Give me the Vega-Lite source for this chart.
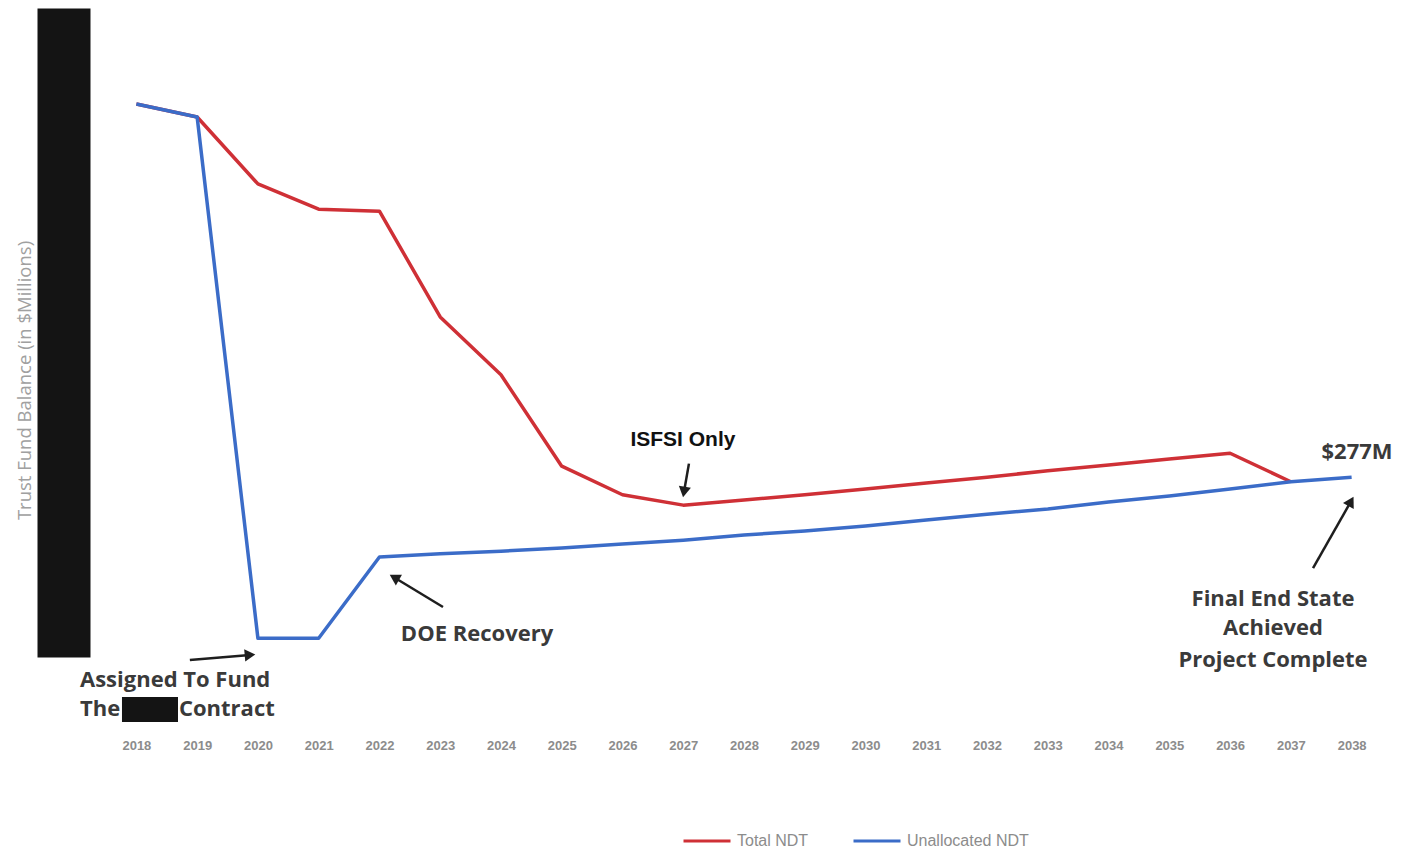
{
  "$schema": "https://vega.github.io/schema/vega-lite/v6.json",
  "autosize": "none",
  "width": 1276,
  "height": 649,
  "padding": {"left": 106, "top": 8, "right": 19, "bottom": 192},
  "background": "white",
  "config": {
    "view": {"stroke": null},
    "axis": {"grid": false, "ticks": false}
  },
  "datasets": {
    "balances": [
      {"year": 2018, "series": "Total NDT", "value": 852},
      {"year": 2019, "series": "Total NDT", "value": 832},
      {"year": 2020, "series": "Total NDT", "value": 729},
      {"year": 2021, "series": "Total NDT", "value": 690},
      {"year": 2022, "series": "Total NDT", "value": 687},
      {"year": 2023, "series": "Total NDT", "value": 524},
      {"year": 2024, "series": "Total NDT", "value": 435},
      {"year": 2025, "series": "Total NDT", "value": 294},
      {"year": 2026, "series": "Total NDT", "value": 250},
      {"year": 2027, "series": "Total NDT", "value": 234},
      {"year": 2028, "series": "Total NDT", "value": 242},
      {"year": 2029, "series": "Total NDT", "value": 250},
      {"year": 2030, "series": "Total NDT", "value": 259},
      {"year": 2031, "series": "Total NDT", "value": 268},
      {"year": 2032, "series": "Total NDT", "value": 277},
      {"year": 2033, "series": "Total NDT", "value": 287},
      {"year": 2034, "series": "Total NDT", "value": 296},
      {"year": 2035, "series": "Total NDT", "value": 305},
      {"year": 2036, "series": "Total NDT", "value": 314},
      {"year": 2037, "series": "Total NDT", "value": 270},
      {"year": 2018, "series": "Unallocated NDT", "value": 852},
      {"year": 2019, "series": "Unallocated NDT", "value": 832},
      {"year": 2020, "series": "Unallocated NDT", "value": 29},
      {"year": 2021, "series": "Unallocated NDT", "value": 29},
      {"year": 2022, "series": "Unallocated NDT", "value": 154},
      {"year": 2023, "series": "Unallocated NDT", "value": 159},
      {"year": 2024, "series": "Unallocated NDT", "value": 163},
      {"year": 2025, "series": "Unallocated NDT", "value": 168},
      {"year": 2026, "series": "Unallocated NDT", "value": 174},
      {"year": 2027, "series": "Unallocated NDT", "value": 180},
      {"year": 2028, "series": "Unallocated NDT", "value": 188},
      {"year": 2029, "series": "Unallocated NDT", "value": 194},
      {"year": 2030, "series": "Unallocated NDT", "value": 202},
      {"year": 2031, "series": "Unallocated NDT", "value": 211},
      {"year": 2032, "series": "Unallocated NDT", "value": 220},
      {"year": 2033, "series": "Unallocated NDT", "value": 228},
      {"year": 2034, "series": "Unallocated NDT", "value": 239},
      {"year": 2035, "series": "Unallocated NDT", "value": 248},
      {"year": 2036, "series": "Unallocated NDT", "value": 259},
      {"year": 2037, "series": "Unallocated NDT", "value": 270},
      {"year": 2038, "series": "Unallocated NDT", "value": 277}
    ],
    "arrows": [
      {"arrow": "isfsi", "year": 2027.094, "value": 298, "year2": 2027.012, "value2": 254.2},
      {"arrow": "assigned", "year": 2018.88, "value": -4.6, "year2": 2019.87, "value2": 3.1},
      {"arrow": "doe", "year": 2023.046, "value": 77, "year2": 2022.245, "value2": 122.5},
      {"arrow": "final", "year": 2037.365, "value": 137, "year2": 2037.989, "value2": 239.7}
    ],
    "notes": [
      {"kind": "center", "year": 2023.606, "value": 35.4, "text": "DOE Recovery"},
      {"kind": "center", "year": 2036.706, "value": 89.4, "text": "Final End State"},
      {"kind": "center", "year": 2036.706, "value": 44.7, "text": "Achieved"},
      {"kind": "center", "year": 2036.706, "value": -4.6, "text": "Project Complete"},
      {"kind": "center", "year": 2038.089, "value": 315.9, "text": "$277M"},
      {"kind": "left", "year": 2017.072, "value": -35.4, "text": "Assigned To Fund"},
      {"kind": "left", "year": 2017.072, "value": -80.1, "text": "The"},
      {"kind": "left", "year": 2018.701, "value": -80.1, "text": "Contract"},
      {"kind": "callout", "year": 2026.995, "value": 334.4, "text": "ISFSI Only"}
    ],
    "redactions": [
      {"year": 2017.763, "year2": 2018.685, "value": -61.6, "value2": -100.2}
    ]
  },
  "layer": [
    {
      "data": {"name": "balances"},
      "mark": {"type": "line", "strokeWidth": 3.5, "strokeJoin": "round"},
      "encoding": {
        "x": {
          "field": "year", "type": "quantitative",
          "scale": {"domain": [2017.5, 2038.5], "nice": false, "zero": false},
          "axis": {
            "title": null,
            "values": [2018, 2019, 2020, 2021, 2022, 2023, 2024, 2025, 2026, 2027, 2028, 2029, 2030, 2031, 2032, 2033, 2034, 2035, 2036, 2037, 2038],
            "format": "d",
            "domain": false,
            "offset": 80,
            "labelPadding": 2,
            "labelFont": "Liberation Sans",
            "labelFontSize": 13,
            "labelFontWeight": "bold",
            "labelColor": "#8c8c8c"
          }
        },
        "y": {
          "field": "value", "type": "quantitative",
          "scale": {"domain": [0, 1000], "nice": false},
          "axis": {
            "title": "Trust Fund Balance (in $Millions)",
            "labels": false,
            "domain": true,
            "domainColor": "#141414",
            "domainWidth": 53,
            "offset": 42.5,
            "titleX": -39,
            "titleY": 372,
            "titleAngle": 270,
            "titleAlign": "center",
            "titleBaseline": "middle",
            "titleFont": "Open Sans",
            "titleFontSize": 18.5,
            "titleFontWeight": "normal",
            "titleColor": "#a0a0a0"
          }
        },
        "color": {
          "field": "series", "type": "nominal",
          "scale": {"domain": ["Total NDT", "Unallocated NDT"], "range": ["#cf3036", "#3b6cc8"]},
          "legend": {
            "title": null,
            "orient": "none",
            "direction": "horizontal",
            "legendX": 576,
            "legendY": 808,
            "symbolType": "stroke",
            "symbolSize": 2209,
            "symbolStrokeWidth": 3,
            "labelFont": "Liberation Sans",
            "labelFontSize": 16,
            "labelColor": "#8c8c8c",
            "labelOffset": 5,
            "columnPadding": 38
          }
        }
      }
    },
    {
      "data": {"name": "arrows"},
      "mark": {"type": "rule", "color": "#1e1e1e", "strokeWidth": 2.5},
      "encoding": {
        "x": {"field": "year", "type": "quantitative"},
        "y": {"field": "value", "type": "quantitative"},
        "x2": {"field": "year2"},
        "y2": {"field": "value2"}
      }
    },
    {
      "data": {"name": "arrows"},
      "transform": [{"filter": "datum.arrow === 'isfsi'"}],
      "mark": {"type": "point", "shape": "triangle-up", "filled": true, "color": "#1e1e1e", "opacity": 1, "size": 150, "angle": 190},
      "encoding": {
        "x": {"field": "year2", "type": "quantitative"},
        "y": {"field": "value2", "type": "quantitative"}
      }
    },
    {
      "data": {"name": "arrows"},
      "transform": [{"filter": "datum.arrow === 'assigned'"}],
      "mark": {"type": "point", "shape": "triangle-up", "filled": true, "color": "#1e1e1e", "opacity": 1, "size": 150, "angle": 85},
      "encoding": {
        "x": {"field": "year2", "type": "quantitative"},
        "y": {"field": "value2", "type": "quantitative"}
      }
    },
    {
      "data": {"name": "arrows"},
      "transform": [{"filter": "datum.arrow === 'doe'"}],
      "mark": {"type": "point", "shape": "triangle-up", "filled": true, "color": "#1e1e1e", "opacity": 1, "size": 150, "angle": 300},
      "encoding": {
        "x": {"field": "year2", "type": "quantitative"},
        "y": {"field": "value2", "type": "quantitative"}
      }
    },
    {
      "data": {"name": "arrows"},
      "transform": [{"filter": "datum.arrow === 'final'"}],
      "mark": {"type": "point", "shape": "triangle-up", "filled": true, "color": "#1e1e1e", "opacity": 1, "size": 150, "angle": 29},
      "encoding": {
        "x": {"field": "year2", "type": "quantitative"},
        "y": {"field": "value2", "type": "quantitative"}
      }
    },
    {
      "data": {"name": "notes"},
      "transform": [{"filter": "datum.kind === 'center'"}],
      "mark": {"type": "text", "align": "center", "baseline": "middle", "font": "Open Sans", "fontSize": 22, "fontWeight": "bold", "color": "#3a3a3a"},
      "encoding": {
        "x": {"field": "year", "type": "quantitative"},
        "y": {"field": "value", "type": "quantitative"},
        "text": {"field": "text"}
      }
    },
    {
      "data": {"name": "notes"},
      "transform": [{"filter": "datum.kind === 'left'"}],
      "mark": {"type": "text", "align": "left", "baseline": "middle", "font": "Open Sans", "fontSize": 22, "fontWeight": "bold", "color": "#3a3a3a"},
      "encoding": {
        "x": {"field": "year", "type": "quantitative"},
        "y": {"field": "value", "type": "quantitative"},
        "text": {"field": "text"}
      }
    },
    {
      "data": {"name": "notes"},
      "transform": [{"filter": "datum.kind === 'callout'"}],
      "mark": {"type": "text", "align": "center", "baseline": "middle", "font": "Liberation Sans", "fontSize": 21, "fontWeight": "bold", "color": "#111111"},
      "encoding": {
        "x": {"field": "year", "type": "quantitative"},
        "y": {"field": "value", "type": "quantitative"},
        "text": {"field": "text"}
      }
    },
    {
      "data": {"name": "redactions"},
      "mark": {"type": "rect", "color": "#141414"},
      "encoding": {
        "x": {"field": "year", "type": "quantitative"},
        "x2": {"field": "year2"},
        "y": {"field": "value", "type": "quantitative"},
        "y2": {"field": "value2"}
      }
    }
  ]
}
